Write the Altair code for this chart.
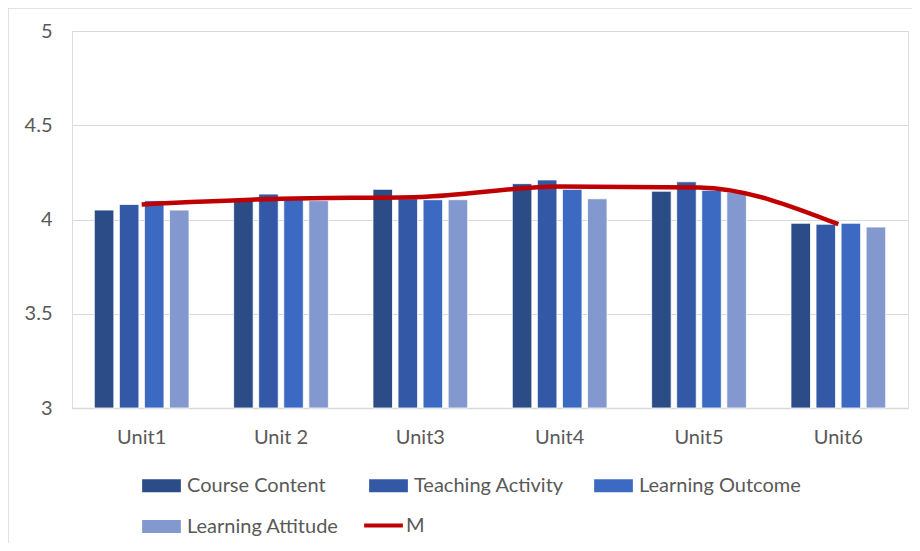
import altair as alt
import pandas as pd

units = ["Unit1", "Unit 2", "Unit3", "Unit4", "Unit5", "Unit6"]
series_names = ["Course Content", "Teaching Activity", "Learning Outcome", "Learning Attitude"]
course_content = [4.05, 4.11, 4.16, 4.19, 4.15, 3.98]
teaching_activity = [4.08, 4.135, 4.11, 4.21, 4.20, 3.975]
learning_outcome = [4.10, 4.11, 4.105, 4.16, 4.155, 3.98]
learning_attitude = [4.05, 4.10, 4.105, 4.11, 4.145, 3.96]
m_values = [4.08, 4.11, 4.12, 4.175, 4.17, 3.975]
y_ticks = [3, 3.5, 4, 4.5, 5]
y_base = 3

bar_colors = ["#2C4C88", "#3258A6", "#3C69C2", "#8298CE"]
line_color = "#C00000"
text_color = "#595959"
FONT = "Lato"

rows = []
for name, vals in zip(series_names, [course_content, teaching_activity, learning_outcome, learning_attitude]):
    for u, v in zip(units, vals):
        rows.append({"unit": u, "series": name, "value": v})
bars_df = pd.DataFrame(rows)
line_df = pd.DataFrame({"unit": units, "value": m_values, "series": ["M"] * len(units)})

x_scale = alt.Scale(domain=units, paddingInner=0.32, paddingOuter=0.16)
y_scale = alt.Scale(domain=[3, 5], nice=False, zero=False)

bars = alt.Chart(bars_df).mark_bar(stroke="white", strokeWidth=0.8).encode(
    x=alt.X("unit:N", scale=x_scale, sort=units,
            axis=alt.Axis(title=None, labelAngle=0, labelFont=FONT, labelFontSize=20,
                          labelColor=text_color, labelPadding=19, ticks=False,
                          domainColor="#d9d9d9", domainWidth=1.5, grid=False)),
    xOffset=alt.XOffset("series:N", sort=series_names,
                        scale=alt.Scale(domain=series_names, paddingInner=0.22, paddingOuter=0)),
    y=alt.Y("value:Q", scale=y_scale,
            axis=alt.Axis(title=None, values=y_ticks, format=".1~f", labelFont=FONT,
                          labelFontSize=20, labelColor=text_color, labelPadding=20,
                          ticks=False, domain=False, gridColor="#d9d9d9", gridWidth=1.2)),
    y2=alt.datum(y_base),
    fill=alt.Fill("series:N", sort=series_names,
                  scale=alt.Scale(domain=series_names, range=bar_colors),
                  legend=alt.Legend(title=None, orient="none", legendX=70, legendY=435,
                                    columns=3, direction="horizontal",
                                    symbolType="M-1,-0.33H1V0.33H-1Z", symbolSize=1500,
                                    symbolStrokeWidth=0, labelFont=FONT, labelFontSize=20,
                                    labelColor=text_color, labelOffset=6, columnPadding=30,
                                    labelLimit=0, rowPadding=11, padding=0)),
)

line = alt.Chart(line_df).mark_line(strokeWidth=4.5, interpolate="monotone").encode(
    x=alt.X("unit:N", scale=x_scale, sort=units),
    y=alt.Y("value:Q", scale=y_scale),
    stroke=alt.Stroke("series:N", scale=alt.Scale(domain=["M"], range=[line_color]),
                      legend=alt.Legend(title=None, orient="none", legendX=290, legendY=473,
                                        symbolType="stroke", symbolSize=1500,
                                        symbolStrokeWidth=4, labelFont=FONT, labelFontSize=20,
                                        labelColor=text_color, labelOffset=1, labelLimit=0,
                                        padding=0)),
)

frame_top = alt.Chart(pd.DataFrame({"a": [0]})).mark_rule(color="#d9d9d9", strokeWidth=1.5).encode(
    x=alt.value(-64), x2=alt.value(848), y=alt.value(-23)
)
frame_left = alt.Chart(pd.DataFrame({"a": [0]})).mark_rule(color="#d9d9d9", strokeWidth=1.5).encode(
    x=alt.value(-64), y=alt.value(-23), y2=alt.value(512)
)

chart = alt.layer(bars, line, frame_top, frame_left).resolve_scale(
    fill="independent", stroke="independent"
).properties(
    width=836, height=377,
    autosize=alt.AutoSizeParams(type="none"),
    padding={"left": 64, "top": 23, "right": 4, "bottom": 135},
).configure_view(stroke=None).configure(background="white")

chart.save("out.html", embed_options={"renderer": "svg", "actions": False})
